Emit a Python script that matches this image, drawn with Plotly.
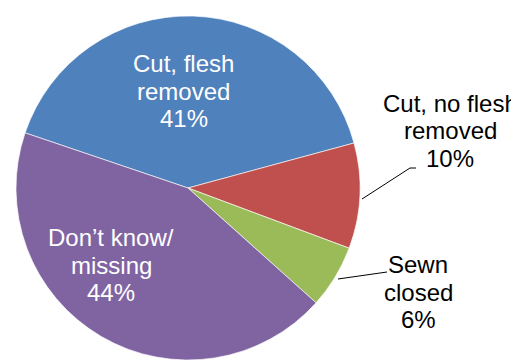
import plotly.graph_objects as go

labels = ["Cut, flesh removed", "Cut, no flesh removed", "Sewn closed", "Don\u2019t know/ missing"]
label_lines = [["Cut, flesh", "removed"], ["Cut, no flesh", "removed"], ["Sewn", "closed"], ["Don\u2019t know/", "missing"]]
values = [41, 10, 6, 44]
colors = ["#4F81BD", "#C0504D", "#9BBB59", "#8064A2"]
text_colors = ["white", "black", "black", "white"]

# The page adds an 8px body margin, so the figure is drawn 8px in from the window's corner.
OFF = 8
W, H = 519 - OFF, 360 - OFF

def px(x):
    return (x - OFF) / W

def py(y):
    return 1 - (y - OFF) / H

CX, CY, R = 188, 188, 172  # pie centre / radius in window pixels

fig = go.Figure(go.Pie(
    labels=labels,
    values=values,
    sort=False,
    direction="clockwise",
    rotation=-71.3,
    marker=dict(colors=colors, line=dict(color="rgba(255,255,255,0.8)", width=0.8)),
    textinfo="none",
    hoverinfo="none",
    showlegend=False,
    domain=dict(x=[px(CX - R), px(CX + R)], y=[py(CY + R), py(CY - R)]),
))

# label positions: centre x and first-line baseline y (window pixels)
label_pos = [(183.5, 72), (450, 112), (418, 273), (111, 246)]
LINE = 27.3
for i in range(len(labels)):
    lines = label_lines[i] + [f"{values[i]}%"]
    x, base = label_pos[i]
    for j, ln in enumerate(lines):
        fig.add_annotation(
            x=px(x), y=py(base + j * LINE - 8.3), xref="paper", yref="paper",
            text=ln, showarrow=False, align="center",
            xanchor="center", yanchor="middle", borderpad=0,
            font=dict(family="Liberation Sans, Arial, sans-serif", size=24, color=text_colors[i]),
        )

# leader lines
fig.add_shape(type="path", xref="paper", yref="paper",
              path=f"M {px(362)} {py(199)} L {px(410)} {py(168)} L {px(416)} {py(168)}",
              line=dict(color="black", width=1))
fig.add_shape(type="line", xref="paper", yref="paper",
              x0=px(338), y0=py(279), x1=px(387), y1=py(272),
              line=dict(color="black", width=1))

fig.update_layout(
    width=W, height=H,
    margin=dict(l=0, r=0, t=0, b=0),
    paper_bgcolor="white", plot_bgcolor="white",
)

fig.write_html("out.html")
